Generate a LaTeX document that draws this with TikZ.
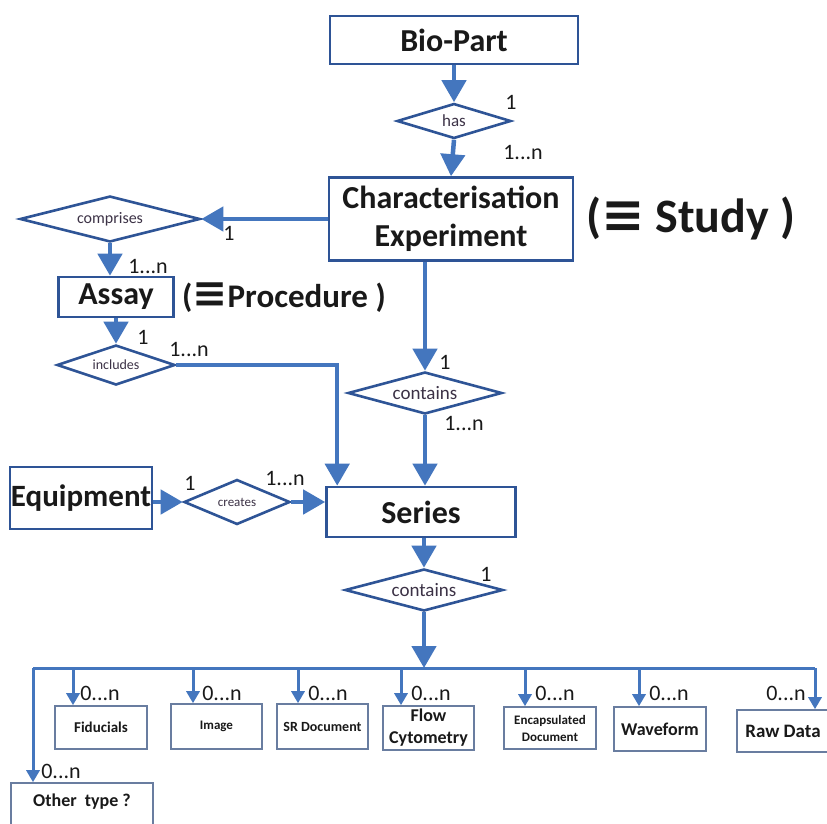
\documentclass[tikz,border=0pt]{standalone}
\usepackage{fontspec}
\setmainfont{Carlito}
\newfontfamily\symf{DejaVu Sans}
\usetikzlibrary{arrows.meta,shapes.geometric}
\definecolor{lineblue}{RGB}{68,118,190}
\definecolor{boxblue}{RGB}{46,84,150}
\definecolor{smallbox}{RGB}{105,125,160}
\definecolor{txt}{RGB}{25,25,25}
\definecolor{dtxt}{RGB}{60,50,70}
\newcommand{\fs}[1]{\fontsize{#1}{#1}\selectfont}
\begin{document}
\begin{tikzpicture}[x=1pt,y=-1pt,
  bigbox/.style={draw=boxblue, line width=2.6pt, fill=white, inner sep=0pt, font=\bfseries\fs{32}, text=txt, align=center},
  smbox/.style={draw=smallbox, line width=1.6pt, inner sep=0pt, font=\bfseries, text=txt, align=center},
  rel/.style={draw=boxblue, line width=2.6pt, diamond, aspect=3.5, inner sep=0pt, text=dtxt},
  card/.style={text=txt, inner sep=0pt, font=\fs{22}},
  conn/.style={draw=lineblue, line width=4.5pt, -{Triangle[width=24pt,length=22pt]}},
  drop/.style={draw=lineblue, line width=3pt, -{Triangle[width=13pt,length=12pt]}},
  bus/.style={draw=lineblue, line width=3pt},
]
\useasboundingbox (0,0) rectangle (827,823);
\fill[white] (0,0) rectangle (827,823);

% entity boxes
\node[bigbox, minimum width=248pt, minimum height=48pt] (bio) at (454,40) {Bio-Part};
\node[bigbox, minimum width=244pt, minimum height=83pt, font=\bfseries\fontsize{32}{38}\selectfont] (char) at (451,219) {Characterisation\\Experiment};
\node[bigbox, minimum width=115pt, minimum height=40pt] (assay) at (116,297) {Assay};
\node[bigbox, minimum width=189pt, minimum height=50pt] (series) at (421,512) {Series};
\node[bigbox, minimum width=142pt, minimum height=62pt, font=\bfseries\fs{31}] (equip) at (81,498) {Equipment};

% side notes
\node[text=txt, font=\bfseries\fs{48}, inner sep=0pt, anchor=west] (study) at (586,218) {({\symf\bfseries\fs{52}≡} Study )};
\node[text=txt, font=\bfseries\fs{33}, inner sep=0pt, anchor=west] (proc) at (182,298) {({\symf\bfseries\fs{42}≡}Procedure )};

% relationships
\node[rel, minimum width=114pt, minimum height=35pt, font=\fs{17}] (has) at (454,121) {has};
\node[rel, minimum width=180pt, minimum height=46pt, font=\fs{16}] (comprises) at (110,219) {comprises};
\node[rel, minimum width=118pt, minimum height=40pt, font=\fs{14}] (includes) at (116,365) {includes};
\node[rel, minimum width=154pt, minimum height=42pt, font=\fs{19}] (contains1) at (425,393) {contains};
\node[rel, minimum width=106pt, minimum height=45pt, font=\fs{13}] (creates) at (237,502) {creates};
\node[rel, minimum width=158pt, minimum height=42pt, font=\fs{19}] (contains2) at (424,590) {contains};

% bottom boxes
\node[smbox, minimum width=92pt, minimum height=43pt, font=\bfseries\fs{15}] (fid) at (101,727.5) {Fiducials};
\node[smbox, minimum width=91pt, minimum height=45pt, font=\bfseries\fs{13}] (img) at (216.5,726.5) {Image};
\node[smbox, minimum width=91pt, minimum height=45pt, font=\bfseries\fs{14}] (sr) at (322.5,726.5) {SR Document};
\node[smbox, minimum width=91pt, minimum height=44pt, font=\bfseries\fontsize{18}{22}\selectfont] (flow) at (428.5,728) {Flow\\Cytometry};
\node[smbox, minimum width=92pt, minimum height=42pt, font=\bfseries\fontsize{13}{17}\selectfont] (encap) at (550,728) {Encapsulated\\Document};
\node[smbox, minimum width=92pt, minimum height=44pt, font=\bfseries\fs{18}] (wave) at (660,729) {Waveform};
\node[smbox, minimum width=92pt, minimum height=42pt, font=\bfseries\fs{19}] (raw) at (783,731) {Raw Data};
\node[smbox, minimum width=142pt, minimum height=50pt] (other) at (82,808) {};
\node[text=txt, font=\bfseries\fs{18}, inner sep=0pt] (othert) at (82,802) {Other\ \ type ?};

% connectors
\draw[conn] (bio.south) -- (has.north);
\draw[conn] (has.south) -- (char.north);
\draw[conn] (char.west |- comprises.east) -- (comprises.east);
\draw[conn] (comprises.south) -- (comprises.south |- assay.north);
\draw[conn] (assay.south) -- (includes.north);
\draw[conn] (includes.east) -| ([xshift=12pt]series.north west);
\draw[conn] (char.south -| contains1.north) -- (contains1.north);
\draw[conn] (contains1.south) -- (contains1.south |- series.north);
\draw[conn] (equip.east |- creates.west) -- (creates.west);
\draw[conn] (creates.east) -- (creates.east -| series.west);
\draw[conn] (series.south -| contains2.north) -- (contains2.north);

% bus
\coordinate (busL) at (33,668);
\coordinate (busR) at (815,668);
\coordinate (dfid) at (73,668);
\coordinate (dimg) at (193,668);
\coordinate (dsr) at (298,668);
\coordinate (dflow) at (401,668);
\coordinate (dencap) at (525,668);
\coordinate (dwave) at (639,668);
\draw[conn] (contains2.south) -- (contains2.south |- busL);
\draw[bus] (busL) -- (busR);
\draw[drop] (busL) -- (busL |- other.north);
\draw[drop] (busR) -- (busR |- raw.north);
\draw[drop] (dfid) -- (dfid |- fid.north);
\draw[drop] (dimg) -- (dimg |- img.north);
\draw[drop] (dsr) -- (dsr |- sr.north);
\draw[drop] (dflow) -- (dflow |- flow.north);
\draw[drop] (dencap) -- (dencap |- encap.north);
\draw[drop] (dwave) -- (dwave |- wave.north);

% cardinalities
\node[card] (c1) at (511,102) {1};
\node[card] (c2) at (523,152) {1...n};
\node[card] (c3) at (229,233) {1};
\node[card] (c4) at (148,266) {1...n};
\node[card] (c5) at (143,337) {1};
\node[card] (c6) at (189,349) {1...n};
\node[card] (c7) at (445,362) {1};
\node[card] (c8) at (464,423) {1...n};
\node[card] (c9) at (190,483) {1};
\node[card] (c10) at (285,478) {1...n};
\node[card] (c11) at (486,574) {1};
\node[card] (z1) at (100,693) {0...n};
\node[card] (z2) at (222,693) {0...n};
\node[card] (z3) at (328,693) {0...n};
\node[card] (z4) at (431,693) {0...n};
\node[card] (z5) at (555,693) {0...n};
\node[card] (z6) at (669,693) {0...n};
\node[card] (z7) at (786,693) {0...n};
\node[card] (z8) at (61,771) {0...n};
\end{tikzpicture}
\end{document}
